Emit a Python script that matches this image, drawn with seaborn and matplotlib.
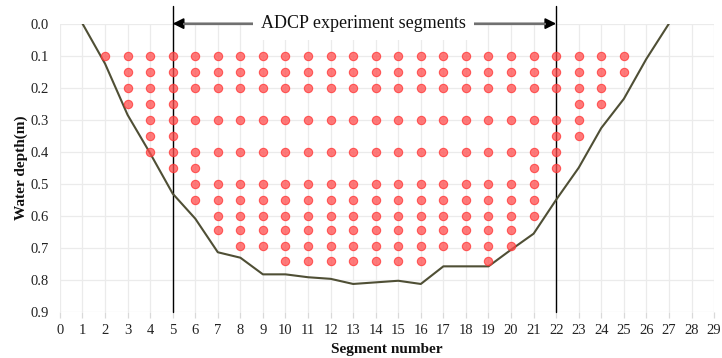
import matplotlib
matplotlib.use("Agg")
import matplotlib.pyplot as plt
import seaborn as sns
import pandas as pd

# ---- data ----
depth_levels = [0.10, 0.15, 0.20, 0.25, 0.30, 0.35, 0.40, 0.45, 0.50, 0.55, 0.60, 0.645, 0.695, 0.74]
segs_010 = [2, 3, 4, 5, 6, 7, 8, 9, 10, 11, 12, 13, 14, 15, 16, 17, 18, 19, 20, 21, 22, 23, 24, 25]
segs_015 = [3, 4, 5, 6, 7, 8, 9, 10, 11, 12, 13, 14, 15, 16, 17, 18, 19, 20, 21, 22, 23, 24, 25]
segs_020 = [3, 4, 5, 6, 7, 8, 9, 10, 11, 12, 13, 14, 15, 16, 17, 18, 19, 20, 21, 22, 23, 24]
segs_025 = [3, 4, 5, 23, 24]
segs_030 = [4, 5, 6, 7, 8, 9, 10, 11, 12, 13, 14, 15, 16, 17, 18, 19, 20, 21, 22, 23]
segs_035 = [4, 5, 22, 23]
segs_040 = [4, 5, 6, 7, 8, 9, 10, 11, 12, 13, 14, 15, 16, 17, 18, 19, 20, 21, 22]
segs_045 = [5, 6, 21, 22]
segs_050 = [6, 7, 8, 9, 10, 11, 12, 13, 14, 15, 16, 17, 18, 19, 20, 21]
segs_055 = [6, 7, 8, 9, 10, 11, 12, 13, 14, 15, 16, 17, 18, 19, 20, 21]
segs_060 = [7, 8, 9, 10, 11, 12, 13, 14, 15, 16, 17, 18, 19, 20, 21]
segs_0645 = [7, 8, 9, 10, 11, 12, 13, 14, 15, 16, 17, 18, 19, 20]
segs_0695 = [8, 9, 10, 11, 12, 13, 14, 15, 16, 17, 18, 19, 20]
segs_074 = [10, 11, 12, 13, 14, 15, 16, 19]
row_segments = [segs_010, segs_015, segs_020, segs_025, segs_030, segs_035, segs_040,
                segs_045, segs_050, segs_055, segs_060, segs_0645, segs_0695, segs_074]

bed_segment = [1, 2, 3, 4, 5, 6, 7, 8, 9, 10, 11, 12, 13, 14, 15, 16, 17, 18, 19, 20,
               21, 22, 23, 24, 25, 26, 27]
bed_depth = [0.0, 0.125, 0.285, 0.405, 0.531, 0.609, 0.714, 0.731, 0.783, 0.783, 0.792,
             0.797, 0.813, 0.808, 0.803, 0.813, 0.758, 0.758, 0.758, 0.706, 0.656, 0.55,
             0.45, 0.326, 0.235, 0.11, 0.0]

adcp_start, adcp_end = 5, 22
x_ticks = list(range(0, 30))
y_ticks = [0.0, 0.1, 0.2, 0.3, 0.4, 0.5, 0.6, 0.7, 0.8, 0.9]

pts = pd.DataFrame(
    [(s, d) for d, segs in zip(depth_levels, row_segments) for s in segs],
    columns=["segment", "depth"],
)
bed = pd.DataFrame({"segment": bed_segment, "depth": bed_depth})

# ---- style ----
sns.set_theme(style="white")
serif = ["Liberation Serif", "DejaVu Serif"]
plt.rcParams["font.family"] = serif

fig = plt.figure(figsize=(7.22, 3.58), dpi=100)
ax = fig.add_axes([0.083, 0.129, 0.906, 0.805])

ax.set_axisbelow(True)
ax.grid(True, color="#ebebeb", linewidth=0.9)

sns.lineplot(data=bed, x="segment", y="depth", ax=ax, color="#4f4f35",
             linewidth=1.5, sort=False, zorder=3)

for xv in (adcp_start, adcp_end):
    ax.axvline(xv, ymin=0, ymax=1.06, color="black", linewidth=1.0,
               clip_on=False, zorder=2)

sns.scatterplot(data=pts, x="segment", y="depth", ax=ax, color="#ff4d4d",
                edgecolor="#ff3333", alpha=0.75, s=36, linewidth=0.8, zorder=4)

# arrow: black heads, grey shaft
ax.annotate("", xy=(adcp_start, 0.0), xytext=(adcp_end, 0.0),
            arrowprops=dict(arrowstyle="<|-|>", color="black", lw=1.3,
                            mutation_scale=16, shrinkA=0, shrinkB=0),
            annotation_clip=False, zorder=5)
ax.plot([adcp_start + 0.45, adcp_end - 0.45], [0.0, 0.0], color="#707070",
        linewidth=1.6, solid_capstyle="butt", clip_on=False, zorder=5.5)
ax.text((adcp_start + adcp_end) / 2 - 0.05, 0.0, "ADCP experiment segments",
        ha="center", va="center", fontsize=13, family=serif, color="#111111",
        bbox=dict(facecolor="white", edgecolor="none", pad=6), zorder=6, clip_on=False)

ax.set_xlim(0, 29)
ax.set_ylim(0.9, 0.0)
ax.set_xticks(x_ticks)
ax.set_yticks(y_ticks)
ax.set_yticklabels([f"{v:.1f}" for v in y_ticks])
for sp in ax.spines.values():
    sp.set_visible(False)
ax.tick_params(axis="x", bottom=True, length=4, color="#d9d9d9", width=0.9,
               labelsize=10.5, pad=5, labelcolor="#222222")
ax.tick_params(axis="y", left=False, labelsize=10.5, pad=2, labelcolor="#222222")

ax.set_xlabel("Segment number", fontsize=11, fontweight="bold", labelpad=4, color="#111111")
ax.set_ylabel("Water depth(m)", fontsize=11, fontweight="bold", labelpad=2, color="#111111")

fig.savefig("out.png", dpi=100)
